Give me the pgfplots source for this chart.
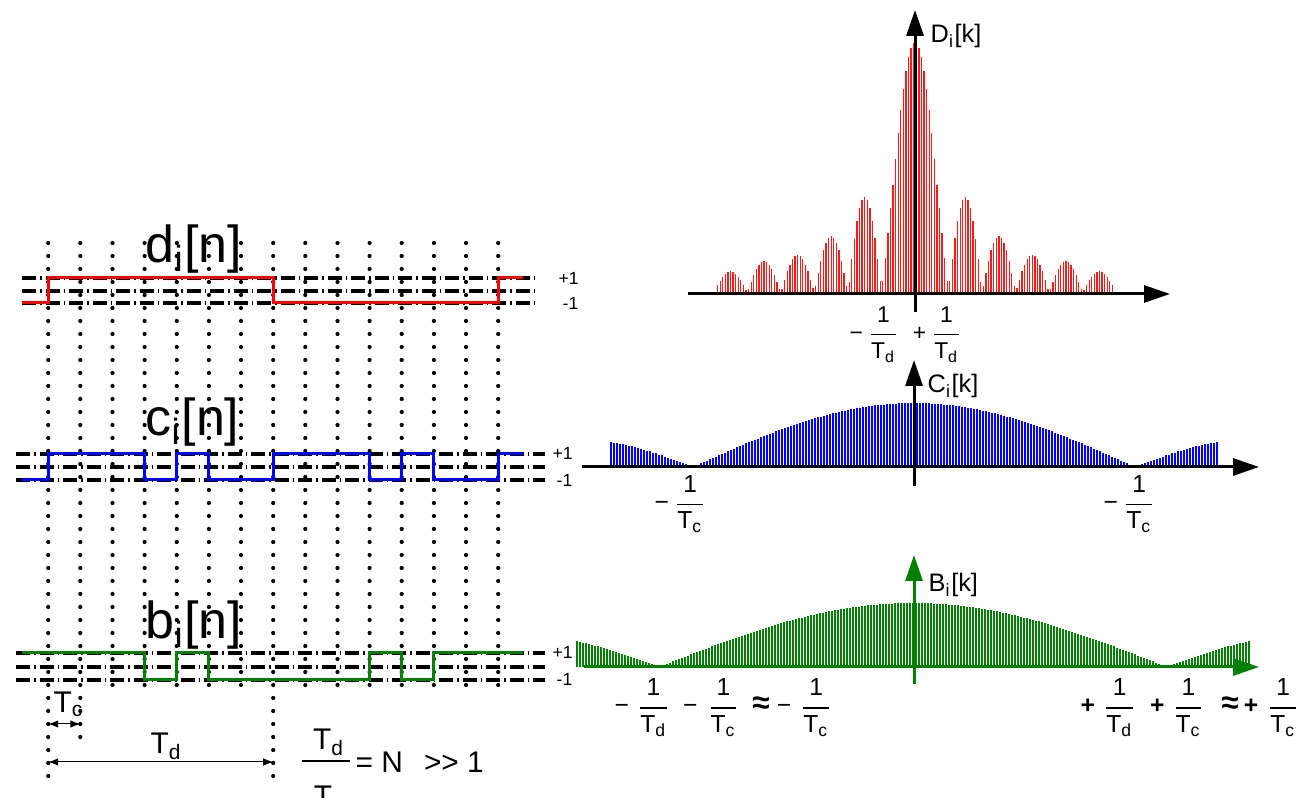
\documentclass[border=0pt]{standalone}
\usepackage{pgfplots}
\pgfplotsset{compat=1.18}
\usetikzlibrary{arrows.meta}
\usepackage{fontspec}
\setmainfont{Liberation Sans}
\definecolor{dgreen}{RGB}{0,128,0}
\newcommand{\fs}[1]{\fontsize{#1}{#1}\selectfont}
\newcommand{\fr}[2]{$\displaystyle\frac{\mbox{#1}}{\mbox{#2}}$}
\newcommand{\apx}{{\fs{9}\textbf{≈}}}
\tikzset{
  vdot/.style={line width=0.42mm, line cap=round, dash pattern=on 0mm off 1.3mm},
  dd/.style={line width=0.34mm, dash pattern=on 1.4mm off 0.4mm on 0.15mm off 0.4mm},
  sig/.style={line width=0.3mm},
  ax/.style={line width=0.3mm, -{Triangle[length=2.6mm,width=1.7mm]}},
  dim/.style={line width=0.1mm, {Latex[length=1mm,width=0.75mm]}-{Latex[length=1mm,width=0.75mm]}}}
\begin{document}
\begin{tikzpicture}
\useasboundingbox (0,0) rectangle (130mm,79.8mm);
\pgfplotsset{base/.style={width=130mm,height=79.8mm,scale only axis,xmin=0,xmax=1300,hide axis,clip=false,anchor=south west,at={(0,0)}}}
% ---------- D spectrum ----------
\begin{axis}[base, ymin=-505, ymax=293]
\addplot[ycomb, red!90, line width=0.13mm] table[row sep=\\, header=false, x expr={717.6+2.58*\coordindex}, y index=0] {
8\\12\\16\\19\\21\\22\\21\\19\\16\\13\\8\\3\\
4\\11\\18\\24\\28\\31\\32\\31\\28\\24\\18\\11\\4\\
4\\13\\22\\28\\34\\37\\38\\37\\34\\28\\22\\13\\5\\
7\\20\\32\\43\\50\\55\\57\\55\\50\\43\\32\\20\\7\\
11\\34\\54\\72\\85\\93\\96\\93\\85\\72\\55\\34\\12\\
12\\35\\60\\85\\108\\134\\160\\183\\204\\222\\236\\245\\250\\
250\\245\\236\\222\\204\\183\\160\\134\\108\\85\\60\\35\\12\\
12\\34\\55\\72\\85\\93\\96\\93\\85\\72\\54\\34\\11\\
7\\20\\32\\43\\50\\55\\57\\55\\50\\43\\32\\20\\7\\
5\\13\\22\\28\\34\\37\\38\\37\\34\\28\\22\\13\\4\\
4\\11\\18\\24\\28\\31\\32\\31\\28\\24\\18\\11\\4\\
3\\8\\13\\16\\19\\21\\22\\21\\19\\16\\12\\8\\
};
\end{axis}
% ---------- C spectrum ----------
\begin{axis}[base, ymin=-331, ymax=467]
\addplot[ycomb, blue, line width=0.11mm] table[row sep=\\, header=false, x expr={611+3*\coordindex}, y index=0] {
25\\24\\24\\23\\23\\22\\21\\21\\20\\19\\18\\17\\16\\16\\14\\14\\12\\12\\10\\9\\8\\7\\6\\5\\4\\3\\1.5\\0.5\\
1\\2\\4\\5\\
6\\8\\9\\10\\12\\13\\14\\16\\17\\18\\
20\\21\\22\\24\\25\\26\\27\\28\\30\\31\\
32\\33\\34\\36\\37\\38\\39\\40\\41\\42\\
43\\44\\45\\46\\47\\48\\49\\50\\50\\51\\
52\\53\\54\\54\\55\\56\\56\\57\\58\\58\\
59\\59\\60\\60\\61\\61\\62\\62\\62\\62\\
63\\63\\63\\63\\64\\64\\64\\64\\64\\
64\\
64\\64\\64\\64\\64\\63\\63\\63\\63\\
62\\62\\62\\62\\61\\61\\60\\60\\59\\59\\
58\\58\\57\\56\\56\\55\\54\\54\\53\\52\\
51\\50\\50\\49\\48\\47\\46\\45\\44\\43\\
42\\41\\40\\39\\38\\37\\36\\34\\33\\32\\
31\\30\\28\\27\\26\\25\\24\\22\\21\\20\\
18\\17\\16\\14\\13\\12\\10\\9\\8\\6\\
5\\4\\2\\1\\
0.5\\1.5\\3\\4\\5\\6\\7\\8\\9\\10\\12\\12\\14\\14\\16\\16\\17\\18\\19\\20\\21\\21\\22\\23\\23\\24\\24\\25\\
};
\end{axis}
% ---------- B spectrum ----------
\begin{axis}[base, ymin=-131, ymax=667]
\addplot[ycomb, dgreen, line width=0.11mm] table[row sep=\\, header=false, x expr={577+3*\coordindex}, y index=0] {
25.5\\25\\24\\24\\23\\22\\21\\20.5\\20\\19\\18\\17\\16\\15\\14\\13\\12\\11\\10\\9\\8\\7\\5.9\\4.8\\3.7\\2.6\\1.5\\0.5\\
1\\2\\3.2\\4.4\\5.5\\
7\\8\\9\\10\\11\\13\\14\\15\\16\\17\\
18\\19\\21\\22\\23\\24\\25\\26\\27\\28\\
29\\30\\31\\32\\33\\34\\35\\36\\37\\38\\
39\\40\\41\\42\\43\\44\\45\\46\\46\\47\\
48\\49\\49\\50\\51\\52\\52\\53\\54\\54\\
55\\56\\56\\57\\57\\58\\58\\59\\59\\60\\
60\\60\\61\\61\\62\\62\\62\\62\\63\\63\\
63\\63\\63\\64\\64\\64\\64\\64\\64\\
64\\
64\\64\\64\\64\\64\\64\\63\\63\\63\\
63\\63\\62\\62\\62\\62\\61\\61\\60\\60\\
60\\59\\59\\58\\58\\57\\57\\56\\56\\55\\
54\\54\\53\\52\\52\\51\\50\\49\\49\\48\\
47\\46\\46\\45\\44\\43\\42\\41\\40\\39\\
38\\37\\36\\35\\34\\33\\32\\31\\30\\29\\
28\\27\\26\\25\\24\\23\\22\\21\\19\\18\\
17\\16\\15\\14\\13\\11\\10\\9\\8\\7\\
5.5\\4.4\\3.2\\2\\1\\
0.5\\1.5\\2.6\\3.7\\4.8\\5.9\\7\\8\\9\\10\\11\\12\\13\\14\\15\\16\\17\\18\\19\\20\\20.5\\21\\22\\23\\24\\24\\25\\25.5\\
};
\end{axis}
% ---------- annotations, pixel coordinates ----------
\begin{axis}[base, ymin=0, ymax=798, y dir=reverse]
% vertical dotted chip lines
\pgfplotsinvokeforeach{112.5,144.6,176.8,208.9,241.0,305.3,337.5,369.6,401.7,433.9,466.0,498.2}{
  \draw[vdot] (axis cs:#1,243) -- (axis cs:#1,686);}
\draw[vdot] (axis cs:48.2,243) -- (axis cs:48.2,776);
\draw[vdot] (axis cs:273.2,243) -- (axis cs:273.2,776);
\draw[vdot] (axis cs:80.3,243) -- (axis cs:80.3,737);
% dash-dot level lines
\draw[dd] (axis cs:22,278) -- (axis cs:537,278);
\draw[dd] (axis cs:22,291) -- (axis cs:537,291);
\draw[dd] (axis cs:22,303) -- (axis cs:537,303);
\draw[dd] (axis cs:16,454) -- (axis cs:545,454);
\draw[dd] (axis cs:16,467) -- (axis cs:545,467);
\draw[dd] (axis cs:16,480) -- (axis cs:545,480);
\draw[dd] (axis cs:16,653) -- (axis cs:545,653);
\draw[dd] (axis cs:16,667) -- (axis cs:545,667);
\draw[dd] (axis cs:16,680) -- (axis cs:545,680);
% signals
\addplot[red, sig] coordinates {(22,303) (48.2,303) (48.2,278) (273.2,278) (273.2,303) (498.2,303) (498.2,278) (523,278)};
\addplot[blue, sig] coordinates {(22,480) (48.2,480) (48.2,454) (144.6,454) (144.6,480) (176.8,480) (176.8,454) (208.9,454) (208.9,480) (273.2,480) (273.2,454) (369.6,454) (369.6,480) (401.7,480) (401.7,454) (433.9,454) (433.9,480) (498.2,480) (498.2,454) (523,454)};
\addplot[dgreen, sig] coordinates {(22,653) (144.6,653) (144.6,680) (176.8,680) (176.8,653) (208.9,653) (208.9,680) (369.6,680) (369.6,653) (401.7,653) (401.7,680) (433.9,680) (433.9,653) (523,653)};
% signal names
\node[anchor=base west, inner sep=0] at (axis cs:145,263) {\fs{14.8}d\textsubscript{i}[n]};
\node[anchor=base west, inner sep=0] at (axis cs:145,436) {\fs{14.8}c\textsubscript{i}[n]};
\node[anchor=base west, inner sep=0] at (axis cs:145,639) {\fs{14.8}b\textsubscript{i}[n]};
% level labels
\node[anchor=west, inner sep=0] at (axis cs:558,278) {\fs{5}+1};
\node[anchor=west, inner sep=0] at (axis cs:562,303) {\fs{5}-1};
\node[anchor=west, inner sep=0] at (axis cs:552,453) {\fs{5}+1};
\node[anchor=west, inner sep=0] at (axis cs:556,480) {\fs{5}-1};
\node[anchor=west, inner sep=0] at (axis cs:552,652) {\fs{5}+1};
\node[anchor=west, inner sep=0] at (axis cs:556,679) {\fs{5}-1};
% Tc, Td dimensions
\draw[dim] (axis cs:48.2,724) -- (axis cs:80.3,724);
\draw[dim] (axis cs:48.2,762) -- (axis cs:273.2,762);
\node[anchor=base west, inner sep=0] at (axis cs:53,713) {\fs{8.5}T\textsubscript{c}};
\node[anchor=base west, inner sep=0] at (axis cs:150,754) {\fs{8.5}T\textsubscript{d}};
\node[anchor=base, inner sep=0] at (axis cs:329,750) {\fs{8.5}T\textsubscript{d}};
\draw[line width=0.2mm] (axis cs:302,761) -- (axis cs:350,761);
\node[anchor=base, inner sep=0] at (axis cs:329,807) {\fs{8.5}T\textsubscript{c}};
\node[anchor=base west, inner sep=0] at (axis cs:355,773) {\fs{8.5}=~N\hspace{2.1mm}{>}{>}~1};
% spectrum axes
\draw[ax] (axis cs:688,294) -- (axis cs:1170,294);
\draw[ax] (axis cs:915,312) -- (axis cs:915,10);
\node[anchor=base west, inner sep=0] at (axis cs:930,43) {\fs{7.2}D\textsubscript{i}[k]};
\draw[ax] (axis cs:582,467) -- (axis cs:1259,467);
\draw[ax] (axis cs:914,486) -- (axis cs:914,360);
\node[anchor=base west, inner sep=0] at (axis cs:927,393) {\fs{7.2}C\textsubscript{i}[k]};
\draw[ax, dgreen] (axis cs:584,667) -- (axis cs:1259,667);
\draw[ax, dgreen] (axis cs:914,684) -- (axis cs:914,555);
\node[anchor=base west, inner sep=0] at (axis cs:928,592) {\fs{7.2}B\textsubscript{i}[k]};
% spectrum tick labels
\node[anchor=west, inner sep=0] at (axis cs:849,335) {\fs{6.5}−\,\fr{1}{T\textsubscript{d}}\hspace{1.3mm}+\,\fr{1}{T\textsubscript{d}}};
\node[anchor=west, inner sep=0] at (axis cs:654,504) {\fs{7}−\,\fr{1}{T\textsubscript{c}}};
\node[anchor=west, inner sep=0] at (axis cs:1103,504) {\fs{7}−\,\fr{1}{T\textsubscript{c}}};
\node[anchor=west, inner sep=0] at (axis cs:614,708) {\fs{7}−\hspace{0.7mm}\fr{1}{T\textsubscript{d}}\hspace{1.2mm}−\hspace{0.9mm}\fr{1}{T\textsubscript{c}}\hspace{1.2mm}\apx\hspace{0.7mm}−\hspace{0.8mm}\fr{1}{T\textsubscript{c}}};
\node[anchor=west, inner sep=0] at (axis cs:1080,708) {\fs{7}\textbf{+}\hspace{0.7mm}\fr{1}{T\textsubscript{d}}\hspace{1.3mm}\textbf{+}\hspace{0.7mm}\fr{1}{T\textsubscript{c}}\hspace{1.6mm}\apx\hspace{0.5mm}\textbf{+}\hspace{0.8mm}\fr{1}{T\textsubscript{c}}};
\end{axis}
\end{tikzpicture}
\end{document}
